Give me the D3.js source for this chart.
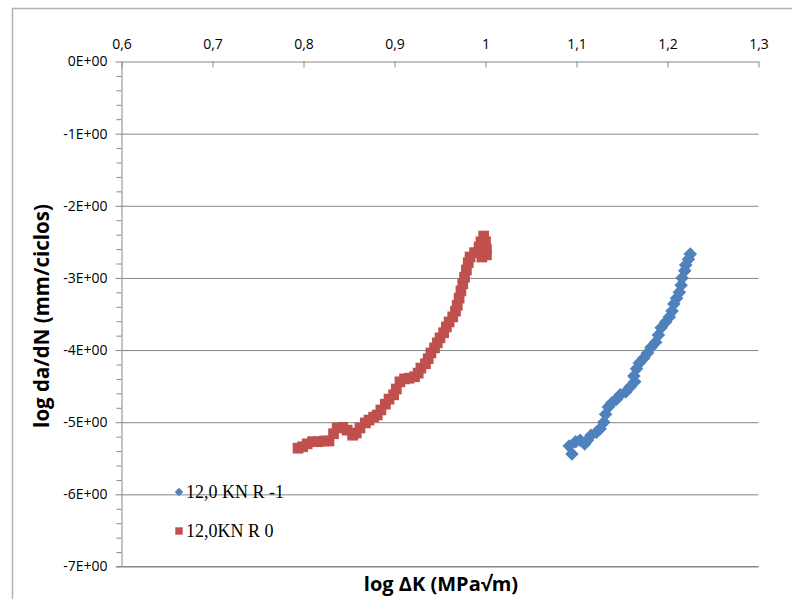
<!DOCTYPE html>
<html>
<head>
<meta charset="utf-8">
<script src="https://cdn.jsdelivr.net/npm/d3@7"></script>
<style>
  html, body { margin: 0; padding: 0; background: #fff; }
  svg { display: block; }
</style>
</head>
<body>
<svg id="chart" width="792" height="599"></svg>
<script>
// ---- data ----
const seriesNames = ["12,0 KN R -1", "12,0KN R 0"];
const xTicks = [0.6, 0.7, 0.8, 0.9, 1.0, 1.1, 1.2, 1.3];
const xTickLabels = ["0,6", "0,7", "0,8", "0,9", "1", "1,1", "1,2", "1,3"];
const yTicks = [0, -1, -2, -3, -4, -5, -6, -7];
const yTickLabels = ["0E+00", "-1E+00", "-2E+00", "-3E+00", "-4E+00", "-5E+00", "-6E+00", "-7E+00"];

// series "12,0 KN R -1" (blue diamonds)
const blueX = [1.095,1.092,1.099,1.104,1.109,1.112,1.116,1.122,1.126,1.130,1.132,1.135,1.139,1.144,1.148,1.154,1.159,1.164,1.163,1.166,1.169,1.174,1.178,1.182,1.187,1.190,1.193,1.198,1.202,1.205,1.207,1.210,1.213,1.215,1.216,1.219,1.220,1.223,1.225];
const blueY = [-5.44,-5.33,-5.27,-5.25,-5.30,-5.25,-5.18,-5.14,-5.09,-5.00,-4.89,-4.79,-4.73,-4.68,-4.62,-4.58,-4.51,-4.44,-4.36,-4.26,-4.18,-4.11,-4.04,-3.96,-3.89,-3.79,-3.69,-3.61,-3.54,-3.46,-3.36,-3.28,-3.20,-3.10,-3.00,-2.90,-2.82,-2.74,-2.67];

// series "12,0KN R 0" (red squares)
const redX = [0.794,0.799,0.804,0.810,0.816,0.823,0.828,0.833,0.837,0.843,0.848,0.854,0.858,0.862,0.868,0.872,0.877,0.881,0.885,0.890,0.894,0.899,0.902,0.906,0.911,0.916,0.922,0.926,0.929,0.934,0.937,0.940,0.944,0.947,0.950,0.954,0.957,0.960,0.964,0.967,0.969,0.971,0.973,0.975,0.977,0.979,0.981,0.983,0.988,0.992,0.993,0.995,0.998,1.000,1.001,1.001,0.996];
const redY = [-5.36,-5.34,-5.30,-5.27,-5.27,-5.26,-5.26,-5.16,-5.08,-5.07,-5.11,-5.18,-5.15,-5.08,-5.01,-4.97,-4.93,-4.90,-4.83,-4.75,-4.68,-4.62,-4.54,-4.44,-4.40,-4.39,-4.37,-4.32,-4.25,-4.19,-4.12,-4.04,-3.97,-3.90,-3.83,-3.76,-3.68,-3.61,-3.54,-3.46,-3.38,-3.28,-3.18,-3.08,-2.99,-2.89,-2.79,-2.71,-2.65,-2.65,-2.57,-2.50,-2.42,-2.50,-2.60,-2.68,-2.71];

const blueColor = "#4f81bd";
const redColor = "#c0504d";

// ---- layout ----
const svg = d3.select("#chart");
const L = 121.5, R = 758.5, T = 61.5, B = 566.5;
const gridColor = "#868686";
const labelFont = "'Open Sans', 'Noto Sans', sans-serif";

// outer frame
svg.append("rect")
  .attr("x", 12.5).attr("y", 8.5)
  .attr("width", 800).attr("height", 620)
  .attr("fill", "none").attr("stroke", "#b3b3b3").attr("stroke-width", 1.5);

const x = d3.scaleLinear().domain([0.6, 1.3]).range([L, R]);
const y = d3.scaleLinear().domain([0, -7]).range([T, B]);

// horizontal gridlines
svg.append("g")
  .attr("transform", `translate(${L},0)`)
  .call(d3.axisLeft(y).tickValues(yTicks.filter(d => d !== 0)).tickSize(-(R - L)).tickFormat(""))
  .call(g => g.select(".domain").remove())
  .call(g => g.selectAll("line").attr("stroke", gridColor));

// minor y ticks
const minorTicks = d3.range(0, 35).map(i => -i * 0.2).filter(v => Math.abs(v - Math.round(v)) > 1e-6);
svg.append("g")
  .attr("transform", `translate(${L},0)`)
  .call(d3.axisLeft(y).tickValues(minorTicks).tickSize(5).tickFormat(""))
  .call(g => g.select(".domain").remove())
  .call(g => g.selectAll("line").attr("stroke", gridColor));

// y axis (major)
svg.append("g")
  .attr("transform", `translate(${L},0)`)
  .call(d3.axisLeft(y).tickValues(yTicks).tickSize(6).tickSizeOuter(0).tickPadding(8)
        .tickFormat((d, i) => yTickLabels[i]))
  .call(g => g.select(".domain").attr("stroke", gridColor))
  .call(g => g.selectAll("line").attr("stroke", gridColor))
  .call(g => g.selectAll("text").attr("font-family", labelFont).attr("font-size", 14).attr("fill", "#000"));

// x axis (top, ticks pointing down)
svg.append("g")
  .attr("transform", `translate(0,${T})`)
  .call(d3.axisTop(x).tickValues(xTicks).tickSizeInner(-6).tickSizeOuter(0).tickPadding(13)
        .tickFormat((d, i) => xTickLabels[i]))
  .call(g => g.select(".domain").attr("stroke", gridColor))
  .call(g => g.selectAll("line").attr("stroke", gridColor))
  .call(g => g.selectAll("text").attr("font-family", labelFont).attr("font-size", 14).attr("fill", "#000"));

// bottom boundary line at -7 extends past left axis
svg.append("line")
  .attr("x1", L - 5).attr("x2", R).attr("y1", y(-7)).attr("y2", y(-7))
  .attr("stroke", gridColor);

// ---- series ----
const diamond = d3.symbol().type(d3.symbolSquare).size(92);
const square = d3.symbol().type(d3.symbolSquare).size(115);

svg.append("g").selectAll("path")
  .data(redX.map((v, i) => [v, redY[i]]))
  .join("path")
  .attr("d", square)
  .attr("transform", d => `translate(${x(d[0])},${y(d[1])})`)
  .attr("fill", redColor);

svg.append("g").selectAll("path")
  .data(blueX.map((v, i) => [v, blueY[i]]))
  .join("path")
  .attr("d", diamond)
  .attr("transform", d => `translate(${x(d[0])},${y(d[1])}) rotate(45)`)
  .attr("fill", blueColor);

// ---- axis titles ----
svg.append("text")
  .attr("transform", `translate(49,${(T + B) / 2 + 2}) rotate(-90)`)
  .attr("text-anchor", "middle")
  .attr("font-family", labelFont).attr("font-weight", "bold").attr("font-size", 20.5)
  .text("log da/dN (mm/ciclos)");

svg.append("text")
  .attr("x", 441).attr("y", 591)
  .attr("text-anchor", "middle")
  .attr("font-family", labelFont).attr("font-weight", "bold").attr("font-size", 20)
  .text("log ΔK (MPa√m)");

// ---- legend ----
const legend = svg.append("g");
const legendItems = [
  { name: seriesNames[0], color: blueColor, sym: d3.symbol().type(d3.symbolSquare).size(36), rot: 45, y: 492 },
  { name: seriesNames[1], color: redColor, sym: d3.symbol().type(d3.symbolSquare).size(55), rot: 0, y: 531 }
];
legendItems.forEach(it => {
  legend.append("path").attr("d", it.sym).attr("transform", `translate(179,${it.y}) rotate(${it.rot})`).attr("fill", it.color);
  legend.append("text").attr("x", 186).attr("y", it.y + 6)
    .attr("font-family", "'Liberation Serif', 'Times New Roman', serif").attr("font-size", 18)
    .attr("fill", "#000").text(it.name);
});
</script>
</body>
</html>
